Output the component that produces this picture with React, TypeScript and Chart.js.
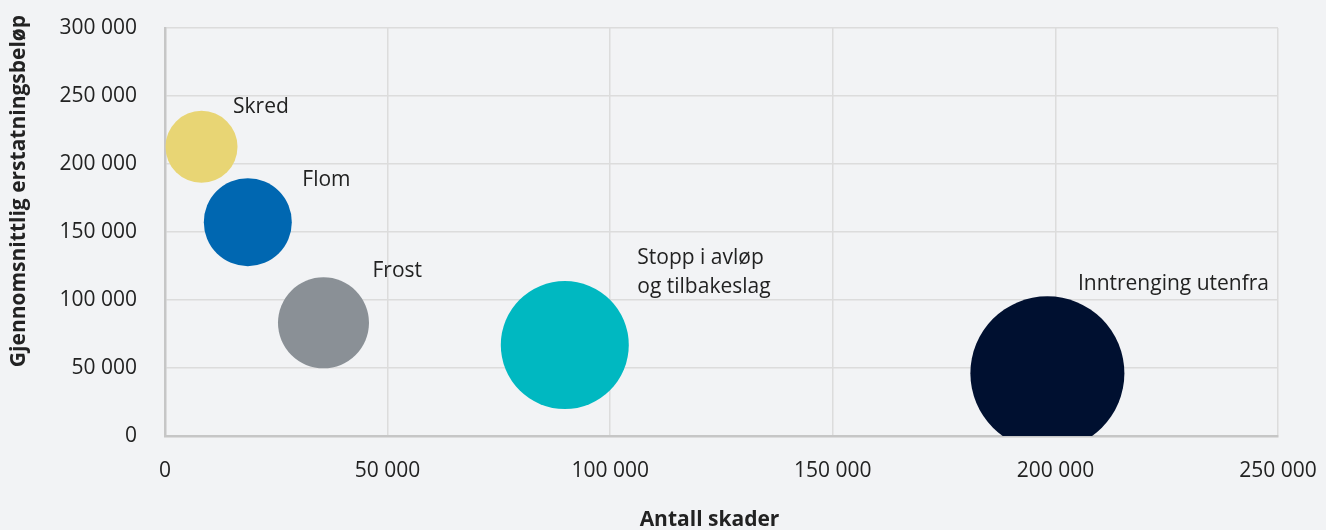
import React, { useEffect, useRef } from "react";
import { Chart, registerables } from "chart.js";

Chart.register(...registerables);

const categories = ["Skred", "Flom", "Frost", "Stopp i avløp og tilbakeslag", "Inntrenging utenfra"];
const labelLines = [["Skred"], ["Flom"], ["Frost"], ["Stopp i avløp", "og tilbakeslag"], ["Inntrenging utenfra"]];
const claimCounts = [8200, 18600, 35600, 89800, 198200];
const avgPayout = [212600, 157200, 83200, 66900, 46100];
const bubbleSizes = [36, 44, 45.5, 64, 77];
const colors = ["#e8d574", "#0067b1", "#8a9096", "#00b8c1", "#001030"];
const xTicks = [0, 50000, 100000, 150000, 200000, 250000];
const yTicks = [0, 50000, 100000, 150000, 200000, 250000, 300000];
const xTitle = "Antall skader";
const yTitle = "Gjennomsnittlig erstatningsbeløp";

// label placement (style): pixel offset from bubble centre to first-line baseline start
const labelOffsets = [[31.5, -34], [54.5, -36], [49, -46], [72.5, -81], [30.5, -83]];

const fmt = (v: number) => String(Math.round(v)).replace(/\B(?=(\d{3})+(?!\d))/g, " ");
const FONT = "'Open Sans', 'Noto Sans', sans-serif";
const TEXT = "#222222";

const zeroPad = (s: any) => {
  s.paddingTop = 0;
  s.paddingBottom = 0;
  s.paddingLeft = 0;
  s.paddingRight = 0;
};

const labelPlugin = {
  id: "bubbleLabels",
  afterDatasetsDraw(chart: any) {
    const ctx = chart.ctx;
    ctx.save();
    ctx.font = `21px ${FONT}`;
    ctx.fillStyle = TEXT;
    ctx.textAlign = "left";
    ctx.textBaseline = "alphabetic";
    chart.data.datasets.forEach((ds: any, i: number) => {
      const el = chart.getDatasetMeta(i).data[0];
      if (!el) return;
      const [dx, dy] = labelOffsets[i];
      labelLines[i].forEach((line, j) => {
        ctx.fillText(line, el.x + dx, el.y + dy + j * 29);
      });
    });
    ctx.restore();
  },
  afterDraw(chart: any) {
    const ctx = chart.ctx;
    const a = chart.chartArea;
    ctx.save();
    ctx.fillStyle = TEXT;
    ctx.font = `bold 21px ${FONT}`;
    ctx.textAlign = "center";
    ctx.textBaseline = "middle";
    ctx.fillText(xTitle, (a.left + a.right) / 2 - 12, 520);
    ctx.translate(19, a.top + 163);
    ctx.rotate(-Math.PI / 2);
    ctx.fillText(yTitle, 0, 0);
    ctx.restore();
  },
};

export default function App() {
  const ref = useRef<HTMLCanvasElement | null>(null);
  useEffect(() => {
    document.body.style.margin = "0";
    const chart = new Chart(ref.current as HTMLCanvasElement, {
      type: "bubble",
      data: {
        datasets: categories.map((c, i) => ({
          label: c,
          data: [{ x: claimCounts[i], y: avgPayout[i], r: bubbleSizes[i] }],
          backgroundColor: colors[i],
          borderColor: colors[i],
          borderWidth: 0,
        })),
      },
      options: {
        animation: false,
        responsive: true,
        maintainAspectRatio: false,
        layout: { autoPadding: false, padding: { top: 28, right: 48, left: 0, bottom: 0 } },
        plugins: { legend: { display: false }, tooltip: { enabled: false } },
        scales: {
          x: {
            type: "linear",
            min: 0,
            max: 250000,
            afterFit: (s: any) => { s.height = 94; zeroPad(s); },
            afterBuildTicks: (s: any) => { s.ticks = xTicks.map((v) => ({ value: v })); },
            ticks: { font: { size: 21, family: FONT }, color: TEXT, padding: 22, callback: (v: any) => fmt(Number(v)) },
            grid: { color: "#dcdcdc", lineWidth: 1.5, drawTicks: false },
            border: { color: "#c6c6c6", width: 2.5 },
          },
          y: {
            type: "linear",
            min: 0,
            max: 300000,
            afterFit: (s: any) => { s.width = 165; zeroPad(s); },
            afterBuildTicks: (s: any) => { s.ticks = yTicks.map((v) => ({ value: v })); },
            ticks: { font: { size: 21, family: FONT }, color: TEXT, padding: 28, callback: (v: any) => fmt(Number(v)) },
            grid: { color: "#dcdcdc", lineWidth: 1.5, drawTicks: false },
            border: { color: "#c6c6c6", width: 2.5 },
          },
        },
      },
      plugins: [labelPlugin],
    });
    return () => chart.destroy();
  }, []);
  return (
    <div style={{ width: 1326, height: 530, background: "#f2f3f5", position: "relative" }}>
      <canvas ref={ref} />
    </div>
  );
}
